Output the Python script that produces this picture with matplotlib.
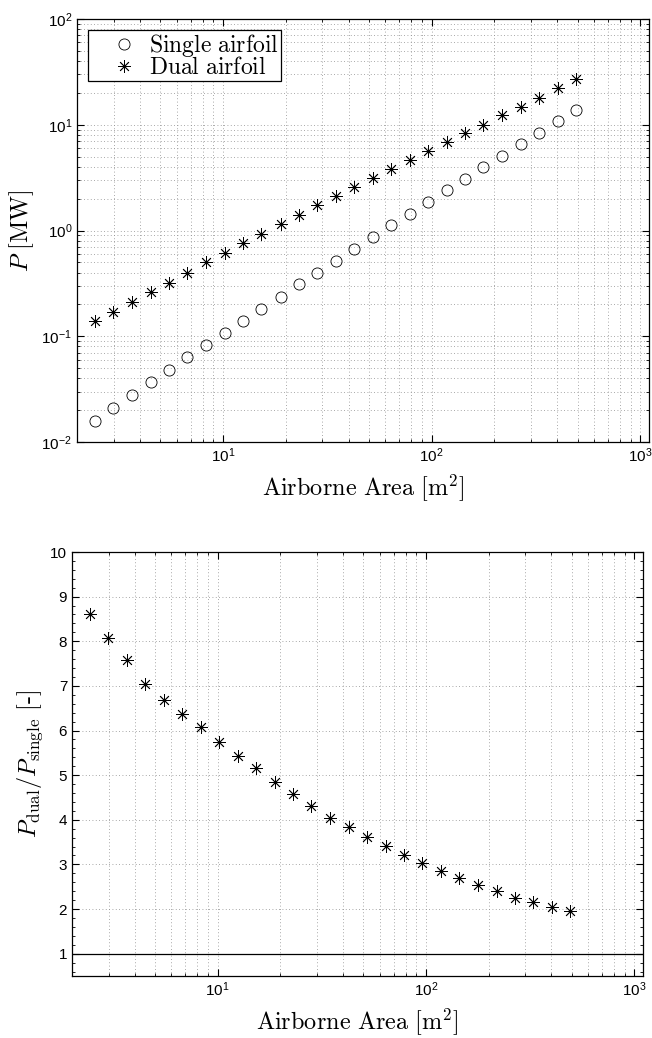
import math
import matplotlib
matplotlib.use("Agg")
import matplotlib.pyplot as plt
from matplotlib.ticker import FuncFormatter, LogLocator, MultipleLocator, NullFormatter

plt.rcParams['font.family'] = ['Liberation Sans', 'DejaVu Sans']
plt.rcParams['mathtext.fontset'] = 'cm'

# airborne area [m^2]
area = [2.43, 2.98, 3.66, 4.50, 5.52, 6.76, 8.34, 10.2, 12.5, 15.3, 18.9, 23.1, 28.2,
        34.7, 42.6, 52.1, 64.0, 78.5, 96.0, 118, 144, 177, 218, 267, 327, 402, 493]

# power [MW]
p_single = [0.0159, 0.0211, 0.0278, 0.0366, 0.0483, 0.0631, 0.0819, 0.107, 0.139,
            0.182, 0.236, 0.309, 0.399, 0.518, 0.673, 0.868, 1.12, 1.44, 1.86, 2.39,
            3.09, 3.98, 5.09, 6.58, 8.35, 10.8, 13.8]
p_dual = [0.138, 0.171, 0.211, 0.260, 0.321, 0.399, 0.499, 0.612, 0.762, 0.933, 1.16,
          1.40, 1.73, 2.10, 2.56, 3.11, 3.82, 4.65, 5.65, 6.88, 8.28, 9.95, 12.3, 14.7,
          18.0, 22.1, 26.9]

# ratio dual / single
ratio = [8.60, 8.08, 7.59, 7.04, 6.69, 6.36, 6.08, 5.74, 5.44, 5.16, 4.85, 4.58, 4.31,
         4.05, 3.84, 3.62, 3.42, 3.21, 3.03, 2.85, 2.69, 2.53, 2.41, 2.24, 2.16, 2.05, 1.95]

star = (8, 2, 0)
grid_kw = dict(linestyle=(0, (1, 3)), color='0.55', linewidth=0.6)
label_fs = 17.5


def log_label(v, pos):
    return r'$\mathregular{10^{%d}}$' % round(math.log10(v))


def style_axes(ax):
    ax.tick_params(which='both', direction='in', top=True, right=True, labelsize=11)
    ax.tick_params(which='major', length=5, width=0.8)
    ax.tick_params(which='minor', length=2.5, width=0.6)
    for s in ax.spines.values():
        s.set_linewidth(0.9)


fig = plt.figure(figsize=(6.52, 10.38), dpi=100)
ax1 = fig.add_axes([77 / 652, 1 - 442 / 1038, (649 - 77) / 652, (442 - 19) / 1038])
ax2 = fig.add_axes([72 / 652, 1 - 976 / 1038, (643 - 72) / 652, (976 - 552) / 1038])

# top: power vs area
ax1.loglog(area, p_single, linestyle='none', marker='o', markersize=8,
           markerfacecolor='none', markeredgecolor='k', markeredgewidth=0.6,
           label=r'$\mathrm{Single\ airfoil}$')
ax1.loglog(area, p_dual, linestyle='none', marker=star, markersize=9,
           color='k', markeredgewidth=0.6, label=r'$\mathrm{Dual\ airfoil}$')
ax1.set_xlim(2, 1100)
ax1.set_ylim(1e-2, 1e2)
ax1.xaxis.set_major_locator(LogLocator(base=10, numticks=10))
ax1.xaxis.set_minor_locator(LogLocator(base=10, subs=range(2, 10), numticks=20))
ax1.yaxis.set_minor_locator(LogLocator(base=10, subs=range(2, 10), numticks=20))
ax1.xaxis.set_major_formatter(FuncFormatter(log_label))
ax1.yaxis.set_major_formatter(FuncFormatter(log_label))
ax1.xaxis.set_minor_formatter(NullFormatter())
ax1.yaxis.set_minor_formatter(NullFormatter())
ax1.grid(True, which='both', **grid_kw)
style_axes(ax1)
ax1.set_xlabel(r'$\mathrm{Airborne\ Area\ [m^2]}$', fontsize=label_fs, labelpad=5)
ax1.set_ylabel(r'$P\ \mathrm{[MW]}$', fontsize=label_fs, labelpad=4)
leg = ax1.legend(loc='upper left', fontsize=17, frameon=True, fancybox=False,
                 edgecolor='k', borderpad=0.1, handletextpad=-0.4, labelspacing=-0.08,
                 borderaxespad=0.45, handlelength=2.9, framealpha=1)
leg.get_frame().set_linewidth(0.9)

# bottom: power ratio vs area
ax2.semilogx(area, ratio, linestyle='none', marker=star, markersize=9,
             color='k', markeredgewidth=0.6)
ax2.axhline(1, color='k', linewidth=0.9)
ax2.set_xlim(2, 1100)
ax2.set_ylim(0.5, 10)
ax2.set_yticks(range(1, 11))
ax2.yaxis.set_minor_locator(MultipleLocator(0.2))
ax2.xaxis.set_major_locator(LogLocator(base=10, numticks=10))
ax2.xaxis.set_minor_locator(LogLocator(base=10, subs=range(2, 10), numticks=20))
ax2.xaxis.set_major_formatter(FuncFormatter(log_label))
ax2.xaxis.set_minor_formatter(NullFormatter())
ax2.grid(True, which='major', **grid_kw)
ax2.grid(True, which='minor', axis='x', **grid_kw)
style_axes(ax2)
ax2.set_xlabel(r'$\mathrm{Airborne\ Area\ [m^2]}$', fontsize=label_fs, labelpad=5)
ax2.set_ylabel(r'$P_{\mathrm{dual}}/P_{\mathrm{single}}\ [\text{-}]$', fontsize=label_fs,
               labelpad=4)

fig.savefig('out.png', dpi=100)
